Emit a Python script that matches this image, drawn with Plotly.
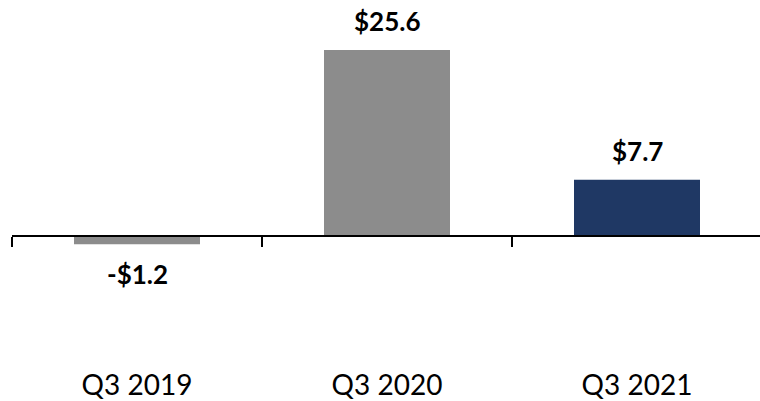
import plotly.graph_objects as go

categories = ["Q3 2019", "Q3 2020", "Q3 2021"]
values = [-1.2, 25.6, 7.7]
labels = ["-$1.2", "$25.6", "$7.7"]
colors = ["#8c8c8c", "#8c8c8c", "#1f3864"]

y_min, y_max = -22.4, 32.5

fig = go.Figure()
fig.add_trace(go.Bar(
    x=categories, y=values,
    marker=dict(color=colors, line=dict(width=0)),
    hoverinfo="skip",
))

for c, v, t in zip(categories, values, labels):
    fig.add_annotation(
        x=c, y=v, text="<b>%s</b>" % t, showarrow=False,
        xref="x", yref="y", yanchor="middle",
        yshift=29 if v >= 0 else -30,
        font=dict(family="Lato", size=26, color="#000000"),
    )

fig.update_layout(
    width=760, height=401,
    margin=dict(l=12, r=0, t=0, b=0),
    paper_bgcolor="white", plot_bgcolor="white",
    bargap=0.496,
    showlegend=False,
    xaxis=dict(
        type="category",
        range=[-0.5, 2.492],
        anchor="free",
        position=(0 - y_min) / (y_max - y_min),
        showline=True, linecolor="#000000", linewidth=2,
        ticks="outside", tickson="boundaries", ticklen=10, tickwidth=2, tickcolor="#000000",
        ticklabelstandoff=125,
        tickfont=dict(family="Lato", size=28, color="#000000"),
        showgrid=False, zeroline=False,
    ),
    yaxis=dict(
        range=[y_min, y_max], visible=False, showgrid=False, zeroline=False,
    ),
)

fig.write_html("out.html")
